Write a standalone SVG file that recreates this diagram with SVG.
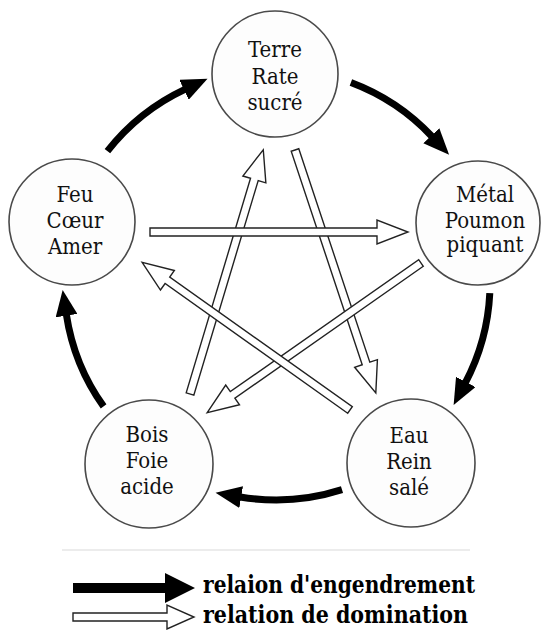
<svg xmlns="http://www.w3.org/2000/svg" width="541" height="630" viewBox="0 0 541 630">
<style>
.node circle{fill:#fdfdfd;stroke:#4a4a4a;stroke-width:1.6}
.node text{text-anchor:middle;font-family:'DejaVu Serif Condensed','DejaVu Serif',serif;font-stretch:condensed;font-size:22px;fill:#111}
.gen{fill:none;stroke:#000;stroke-width:7;marker-end:url(#bh)}
.dom{fill:#fff;stroke:#222;stroke-width:1.4;stroke-linejoin:miter}
.leg{font-family:'DejaVu Serif Condensed','DejaVu Serif',serif;font-stretch:condensed;font-size:24px;font-weight:bold;fill:#000}
</style>
<defs>
<marker id="bh" markerUnits="userSpaceOnUse" markerWidth="28" markerHeight="22" viewBox="0 0 28 22" refX="1" refY="11" orient="auto">
<path d="M0,0 L26,11 L0,22 Z" fill="#000"/>
</marker>
</defs>
<rect width="541" height="630" fill="#fff"/>
<g id="connectors">
<path class="gen" d="M107.4,151.2 A214,214 0 0 1 184.9,89.4"/>
<path class="gen" d="M350.9,82.5 A214,214 0 0 1 432,136.5"/>
<path class="gen" d="M489.8,293.1 A214,214 0 0 1 465.3,382.8"/>
<path class="gen" d="M342,489.7 A217,217 0 0 1 240.2,497"/>
<path class="gen" d="M103.6,406.4 A212,212 0 0 1 66.4,314.7"/>
<path class="dom" transform="translate(190 394) rotate(-73.3)" d="M0,-4 H224 V-12 L255,0 L224,12 V4 H0 Z"/>
<path class="dom" transform="translate(295 150) rotate(71.6)" d="M0,-4 H225 V-12 L256,0 L225,12 V4 H0 Z"/>
<path class="dom" transform="translate(421 263) rotate(145)" d="M0,-4 H230 V-12 L261,0 L230,12 V4 H0 Z"/>
<path class="dom" transform="translate(350 410) rotate(-144.6)" d="M0,-4 H224 V-12 L255,0 L224,12 V4 H0 Z"/>
<path class="dom" transform="translate(150 232)" d="M0,-4 H227 V-12 L258,0 L227,12 V4 H0 Z"/>
</g>
<g id="terre" class="node">
<circle cx="275" cy="74" r="63"/>
<text x="275" y="57">Terre</text>
<text x="275" y="84">Rate</text>
<text x="275" y="110">sucré</text>
</g>
<g id="metal" class="node">
<circle cx="478" cy="223" r="62"/>
<text x="485" y="202">Métal</text>
<text x="485" y="228">Poumon</text>
<text x="485" y="252">piquant</text>
</g>
<g id="eau" class="node">
<circle cx="411" cy="463" r="64"/>
<text x="409" y="443">Eau</text>
<text x="409" y="469">Rein</text>
<text x="409" y="495">salé</text>
</g>
<g id="bois" class="node">
<circle cx="149" cy="464" r="64"/>
<text x="147" y="442">Bois</text>
<text x="147" y="468">Foie</text>
<text x="147" y="494">acide</text>
</g>
<g id="feu" class="node">
<circle cx="72" cy="222" r="63"/>
<text x="75" y="202">Feu</text>
<text x="75" y="228">Cœur</text>
<text x="75" y="254">Amer</text>
</g>
<g id="legend">
<line x1="62" y1="550" x2="470" y2="550" stroke="#ececec" stroke-width="2"/>
<path d="M73,583 H165 V573 L195,588 L165,603 V593 H73 Z" fill="#000"/>
<text class="leg" x="203" y="593" textLength="272" lengthAdjust="spacingAndGlyphs">relaion d'engendrement</text>
<path class="dom" d="M73,613 H167 V605 L194,617 L167,629 V621 H73 Z"/>
<text class="leg" x="203" y="623" textLength="265" lengthAdjust="spacingAndGlyphs">relation de domination</text>
</g>
</svg>
